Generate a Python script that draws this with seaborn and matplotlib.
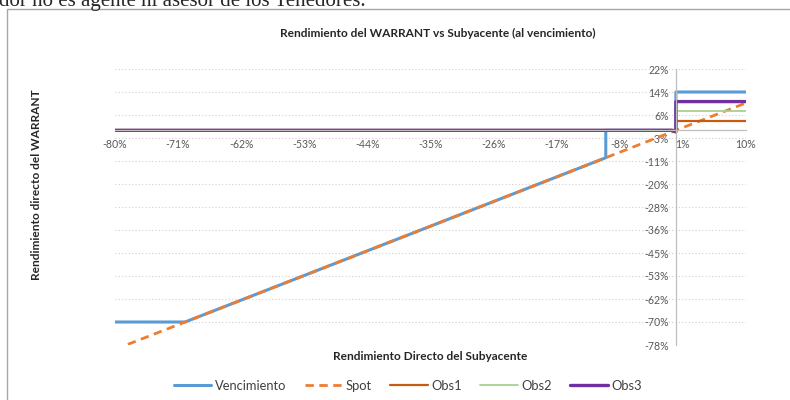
import numpy as np
import pandas as pd
import matplotlib
matplotlib.use('Agg')
import matplotlib.pyplot as plt
from matplotlib.patches import Rectangle
import seaborn as sns

# Series (x = rendimiento del subyacente, y = rendimiento del warrant)
venc_x = [-0.80, -0.70, -0.10, -0.10, 0.00, 0.00, 0.10]
venc_y = [-0.70, -0.70, -0.10, 0.00, 0.00, 0.14, 0.14]
spot_x = [-0.80, 0.10]
spot_y = [-0.80, 0.10]
obs1_x = [-0.80, 0.00, 0.00, 0.10]
obs1_y = [0.00, 0.00, 0.035, 0.035]
obs2_x = [-0.80, 0.00, 0.00, 0.10]
obs2_y = [0.00, 0.00, 0.07, 0.07]
obs3_x = [-0.80, -0.006, 0.00, 0.00, 0.10]
obs3_y = [0.00, 0.00, -0.006, 0.105, 0.105]

x_ticks = [-0.80, -0.71, -0.62, -0.53, -0.44, -0.35, -0.26, -0.17, -0.08, 0.01, 0.10]
x_tick_labels = ['-80%', '-71%', '-62%', '-53%', '-44%', '-35%', '-26%', '-17%', '-8%', '1%', '10%']
y_ticks = [0.224, 0.140, 0.056, -0.028, -0.112, -0.196, -0.280, -0.364, -0.448,
           -0.532, -0.616, -0.700, -0.784]
y_tick_labels = ['22%', '14%', '6%', '-3%', '-11%', '-20%', '-28%', '-36%', '-45%',
                 '-53%', '-62%', '-70%', '-78%']

sns.set_style('white')
plt.rcParams['font.family'] = ['Lato', 'DejaVu Sans']

fig = plt.figure(figsize=(7.9, 4.0), dpi=100)
ax = fig.add_axes([115 / 790, 1 - 345 / 400, 631 / 790, 276 / 400])

series = [
    ('Vencimiento', venc_x, venc_y, '#5B9BD5', 2.2, None),
    ('Spot', spot_x, spot_y, '#ED7D31', 2.0, (3.0, 2.0)),
    ('Obs1', obs1_x, obs1_y, '#C55A11', 1.6, None),
    ('Obs2', obs2_x, obs2_y, '#A9D18E', 1.3, None),
    ('Obs3', obs3_x, obs3_y, '#7030A0', 2.4, None),
]
for name, xs, ys, col, lw, dash in series:
    df = pd.DataFrame({'x': xs, 'y': ys})
    line_kw = dict(color=col, linewidth=lw, label=name, sort=False, estimator=None, ax=ax)
    if dash:
        line_kw['dashes'] = dash
    sns.lineplot(data=df, x='x', y='y', **line_kw)
if ax.get_legend():
    ax.get_legend().remove()

ax.set_xlim(-0.80, 0.10)
ax.set_ylim(-0.784, 0.224)
ax.set_xticks(x_ticks)
ax.set_xticklabels(x_tick_labels)
ax.set_yticks(y_ticks)
ax.set_yticklabels(y_tick_labels)
ax.set_xlabel('')
ax.set_ylabel('')

# axes cross at zero like in Excel
ax.spines['left'].set_position(('data', 0))
ax.spines['bottom'].set_position(('data', 0))
ax.spines['top'].set_visible(False)
ax.spines['right'].set_visible(False)
for s in ['left', 'bottom']:
    ax.spines[s].set_color('#BFBFBF')
    ax.spines[s].set_linewidth(0.9)
ax.tick_params(direction='out', length=3, width=0.8, color='#BFBFBF',
               labelcolor='#595959', labelsize=7.6, pad=2)
ax.tick_params(axis='x', pad=3)
ax.yaxis.grid(True, linestyle=(0, (1, 2)), color='#D0D0D0', linewidth=0.8)
ax.xaxis.grid(False)
ax.set_axisbelow(True)

lab_kw = dict(ha='center', va='center', fontweight='bold', fontsize=8.6, color='#262626')
fig.text(438 / 790, 1 - 33 / 400, 'Rendimiento del WARRANT vs Subyacente (al vencimiento)', **lab_kw)
fig.text(37 / 790, 1 - 185 / 400, 'Rendimiento directo del WARRANT', rotation=90, **lab_kw)
fig.text(430 / 790, 1 - 357 / 400, 'Rendimiento Directo del Subyacente', **lab_kw)

handles, labels = ax.get_legend_handles_labels()
fig.legend(handles, labels, loc='center', bbox_to_anchor=(408 / 790, 1 - 386 / 400),
           ncol=5, frameon=False, fontsize=9.3, handlelength=2.9, handletextpad=0.3,
           columnspacing=1.4, labelcolor='#404040')

# document frame and cut text above the chart
fig.patches.append(Rectangle((7 / 790, -0.1), 1.2, 1.1 - 9 / 400, transform=fig.transFigure,
                             fill=False, edgecolor='#A6A6A6', linewidth=1.0))
fig.text(-1 / 790, 1 - 6 / 400, 'dor no es agente ni asesor de los Tenedores.',
         ha='left', va='baseline', fontsize=15, family=['Liberation Serif', 'DejaVu Serif'])

fig.savefig('out.png', dpi=100)
